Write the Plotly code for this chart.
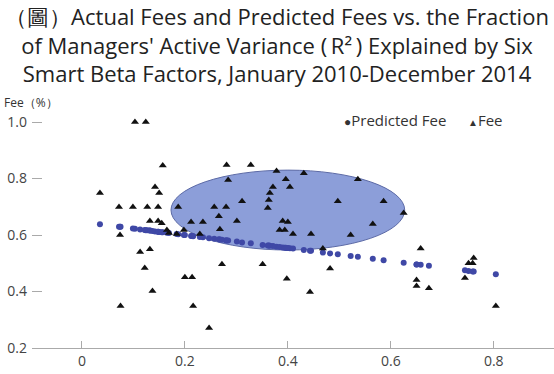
import plotly.graph_objects as go

# Each manager: R-squared (fraction of active variance explained), actual fee, predicted fee
r2 = [0.103, 0.124, 0.157, 0.281, 0.328, 0.378, 0.431, 0.536, 0.284, 0.396,
      0.035, 0.142, 0.150, 0.072, 0.099, 0.127, 0.148, 0.187, 0.257, 0.280,
      0.311, 0.371, 0.404, 0.365, 0.363, 0.361, 0.497, 0.586, 0.625, 0.266,
      0.212, 0.235, 0.301, 0.390, 0.400, 0.565, 0.384, 0.394, 0.410, 0.445,
      0.522, 0.268, 0.132, 0.148, 0.155, 0.165, 0.169, 0.198, 0.184, 0.229,
      0.074, 0.113, 0.132, 0.122, 0.137, 0.075, 0.200, 0.214, 0.216, 0.247,
      0.272, 0.351, 0.398, 0.443, 0.468, 0.658, 0.482, 0.650, 0.650, 0.674,
      0.761, 0.751, 0.759, 0.744, 0.804]
fee = [1.000, 1.000, 0.846, 0.848, 0.848, 0.827, 0.819, 0.798, 0.795, 0.798,
       0.749, 0.770, 0.749, 0.699, 0.699, 0.699, 0.699, 0.699, 0.699, 0.699,
       0.720, 0.770, 0.770, 0.749, 0.724, 0.696, 0.720, 0.720, 0.678, 0.667,
       0.646, 0.646, 0.650, 0.650, 0.646, 0.639, 0.618, 0.618, 0.604, 0.604,
       0.600, 0.621, 0.650, 0.650, 0.642, 0.618, 0.607, 0.618, 0.604, 0.604,
       0.600, 0.540, 0.550, 0.483, 0.402, 0.349, 0.451, 0.451, 0.349, 0.271,
       0.497, 0.497, 0.445, 0.398, 0.552, 0.552, 0.482, 0.441, 0.420, 0.412,
       0.519, 0.500, 0.500, 0.448, 0.349]
predicted = [0.622, 0.617, 0.610, 0.581, 0.571, 0.559, 0.547, 0.523, 0.581, 0.555,
             0.638, 0.613, 0.611, 0.629, 0.623, 0.617, 0.612, 0.603, 0.587, 0.582,
             0.574, 0.561, 0.553, 0.562, 0.563, 0.563, 0.532, 0.511, 0.502, 0.585,
             0.597, 0.592, 0.577, 0.556, 0.554, 0.516, 0.558, 0.555, 0.552, 0.544,
             0.526, 0.584, 0.616, 0.612, 0.610, 0.608, 0.607, 0.600, 0.604, 0.593,
             0.629, 0.620, 0.616, 0.618, 0.614, 0.629, 0.600, 0.597, 0.596, 0.589,
             0.583, 0.565, 0.554, 0.544, 0.538, 0.495, 0.535, 0.496, 0.496, 0.491,
             0.471, 0.473, 0.471, 0.475, 0.461]

x_ticks = [0, 0.2, 0.4, 0.6, 0.8]
x_tick_labels = ["0", "0.2", "0.4", "0.6", "0.8"]
y_ticks = [0.2, 0.4, 0.6, 0.8, 1.0]
y_tick_labels = ["0.2", "0.4", "0.6", "0.8", "1.0"]

# highlighted cluster (ellipse) bounds
ell_x = [0.173, 0.627]
ell_y = [0.547, 0.830]

FONT = "Open Sans"
fig = go.Figure()

fig.add_shape(type="circle", xref="x", yref="y",
              x0=ell_x[0], x1=ell_x[1], y0=ell_y[0], y1=ell_y[1],
              fillcolor="#8c9ed9", line=dict(color="#5c6aa6", width=1),
              layer="below")

fig.add_trace(go.Scatter(x=r2, y=predicted, mode="markers", name="Predicted Fee",
                         marker=dict(symbol="circle", size=6, color="#3f48a6"),
                         showlegend=False))
fig.add_trace(go.Scatter(x=r2, y=fee, mode="markers", name="Fee",
                         marker=dict(symbol="triangle-up", size=7, color="#111111"),
                         showlegend=False))

fig.update_layout(
    width=554, height=374,
    margin=dict(l=32, r=0, t=108, b=26, pad=0),
    paper_bgcolor="white", plot_bgcolor="white",
    font=dict(family=FONT, color="#333333"),
    title=dict(
        text="（圖）Actual Fees and Predicted Fees vs. the Fraction<br>"
             "of Managers' Active Variance (\u2009R²\u2009) Explained by Six<br>"
             "Smart Beta Factors, January 2010-December 2014",
        x=0.5, xref="container", xanchor="center",
        y=0.933, yref="container", yanchor="top",
        font=dict(family=FONT, size=22, color="#222222"),
    ),
    xaxis=dict(range=[-0.097, 0.917], tickvals=x_ticks, ticktext=x_tick_labels,
               ticks="inside", ticklen=7, tickcolor="#aaaaaa",
               showline=True, linecolor="#aaaaaa", linewidth=1,
               showgrid=False, zeroline=False, automargin=False,
               tickfont=dict(size=14, color="#444444")),
    yaxis=dict(range=[0.2, 1.05], tickvals=y_ticks, ticktext=y_tick_labels,
               ticks="inside", ticklen=10, tickcolor="#aaaaaa",
               ticklabelstandoff=4,
               showline=False, showgrid=False, zeroline=False, automargin=False,
               tickfont=dict(size=14, color="#444444")),
    annotations=[
        dict(text="Fee（%）", xref="paper", yref="paper", x=-0.058, y=1.025,
             xanchor="left", yanchor="middle", showarrow=False,
             font=dict(size=12, color="#333333")),
        dict(text="<span style='font-size:12px'>●</span>Predicted Fee", xref="paper", yref="paper",
             x=0.593, y=0.95, xanchor="left", yanchor="middle", showarrow=False,
             font=dict(size=15, color="#333333")),
        dict(text="<span style='font-size:10px'>▲</span>Fee", xref="paper", yref="paper",
             x=0.831, y=0.95, xanchor="left", yanchor="middle", showarrow=False,
             font=dict(size=15, color="#333333")),
    ],
)

fig.write_html("out.html", config={"displayModeBar": False},
               post_script="document.body.style.margin='0';")
